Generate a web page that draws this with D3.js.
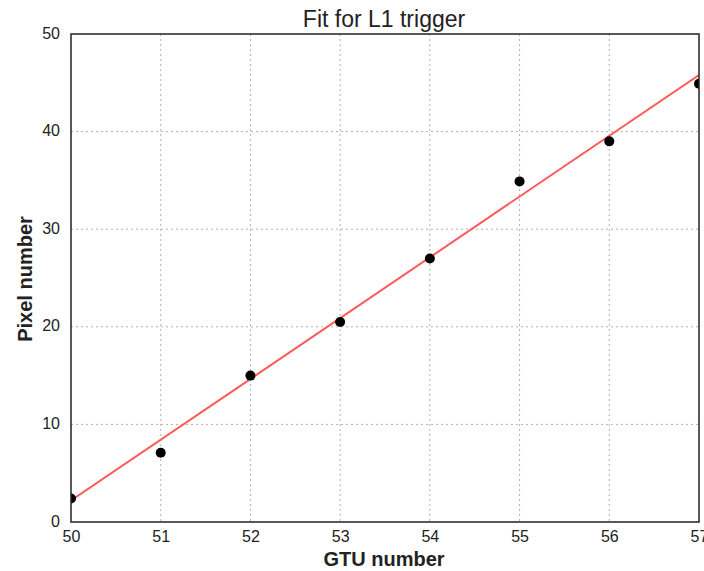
<!DOCTYPE html>
<html><head><meta charset="utf-8">
<script src="https://cdn.jsdelivr.net/npm/d3@7"></script>
<style>body{margin:0;background:#fff}svg{display:block}</style>
</head><body>
<svg id="c" width="704" height="571"></svg>
<script>
const gtu = [50, 51, 52, 53, 54, 55, 56, 57];
const pixel = [2.4, 7.1, 15.0, 20.5, 27.0, 34.9, 39.0, 44.9];
const fitX = [50, 57];
const fitY = [2.2, 45.8];
const xTicks = [50, 51, 52, 53, 54, 55, 56, 57];
const yTicks = [0, 10, 20, 30, 40, 50];

const svg = d3.select("#c");
const L = 71, R = 699, T = 34, B = 522;
const x = d3.scaleLinear().domain([50, 57]).range([L, R]);
const y = d3.scaleLinear().domain([0, 50]).range([B, T]);
const font = "'Liberation Sans', Arial, sans-serif";

svg.append("defs").append("clipPath").attr("id", "clip")
  .append("rect").attr("x", L).attr("y", T).attr("width", R - L).attr("height", B - T);

// grid
const grid = svg.append("g");
grid.selectAll("line.gx").data(xTicks.slice(1, -1)).enter().append("line")
  .attr("x1", d => x(d)).attr("x2", d => x(d)).attr("y1", T).attr("y2", B)
  .attr("stroke", "#b0b0b0").attr("stroke-width", 1).attr("stroke-dasharray", "2,3");
grid.selectAll("line.gy").data(yTicks.slice(1, -1)).enter().append("line")
  .attr("y1", d => y(d)).attr("y2", d => y(d)).attr("x1", L).attr("x2", R)
  .attr("stroke", "#b0b0b0").attr("stroke-width", 1).attr("stroke-dasharray", "2,3");

// axes
const xAxis = d3.axisBottom(x).tickValues(xTicks).tickFormat(d3.format("d")).tickSize(0).tickPadding(9);
const yAxis = d3.axisLeft(y).tickValues(yTicks).tickFormat(d3.format("d")).tickSize(0).tickPadding(11);
const gx = svg.append("g").attr("transform", `translate(0,${B})`).call(xAxis);
const gy = svg.append("g").attr("transform", `translate(${L},0)`).call(yAxis);
[gx, gy].forEach(g => {
  g.select(".domain").remove();
  g.selectAll("text").attr("font-family", font).attr("font-size", 16).attr("fill", "#222");
});
gy.selectAll("text").attr("dy", "0.25em");

const plot = svg.append("g").attr("clip-path", "url(#clip)");
plot.append("line")
  .attr("x1", x(fitX[0])).attr("y1", y(fitY[0]))
  .attr("x2", x(fitX[1])).attr("y2", y(fitY[1]))
  .attr("stroke", "#ff5a5a").attr("stroke-width", 2);
plot.selectAll("circle").data(gtu).enter().append("circle")
  .attr("cx", d => x(d)).attr("cy", (d, i) => y(pixel[i])).attr("r", 5).attr("fill", "#000");

svg.append("rect").attr("x", L).attr("y", T).attr("width", R - L).attr("height", B - T)
  .attr("fill", "none").attr("stroke", "#222").attr("stroke-width", 1.5);

svg.append("text").attr("x", 384).attr("y", 27).attr("text-anchor", "middle")
  .attr("font-family", font).attr("font-size", 23).attr("fill", "#222").text("Fit for L1 trigger");
svg.append("text").attr("x", 384).attr("y", 566).attr("text-anchor", "middle")
  .attr("font-family", font).attr("font-size", 20).attr("font-weight", "bold").attr("fill", "#222").text("GTU number");
svg.append("text").attr("transform", `translate(32,279) rotate(-90)`).attr("text-anchor", "middle")
  .attr("font-family", font).attr("font-size", 20).attr("font-weight", "bold").attr("fill", "#222").text("Pixel number");
</script>
</body></html>
